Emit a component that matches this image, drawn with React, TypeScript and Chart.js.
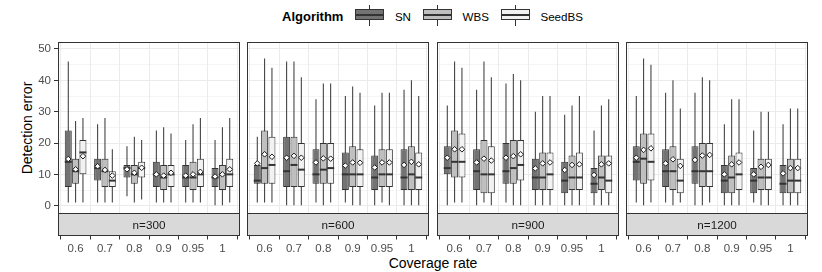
import React, { useEffect, useRef } from 'react';
import { Chart, registerables } from 'chart.js';

Chart.register(...registerables);

const FONT = "'Liberation Sans', Arial, Helvetica, sans-serif";
Chart.defaults.font.family = FONT;

// ---------------- data ----------------
const COVERAGE = ['0.6', '0.7', '0.8', '0.9', '0.95', '1'];
const PANELS = ['n=300', 'n=600', 'n=900', 'n=1200'];
const ALGORITHMS = ['SN', 'WBS', 'SeedBS'];
const Y_TICKS = [0, 10, 20, 30, 40, 50];
const Y_MINOR = [5, 15, 25, 35, 45];

// one row per coverage rate: [lower whisker, Q1, median, Q3, upper whisker, mean]
const SN_300 = [
  [1, 6, 14, 24, 46, 14.9],
  [1, 8, 12, 15, 26, 12.6],
  [3, 9, 12, 13, 19, 11.6],
  [1, 6, 10, 14, 24, 10.0],
  [1, 6, 9, 13, 21, 9.6],
  [0, 6, 9, 12, 21, 9.3],
];
const WBS_300 = [
  [1, 7, 11, 15, 27, 11.6],
  [1, 6, 11, 15, 28, 11.4],
  [1, 7, 10, 13, 22, 10.5],
  [1, 5, 9, 13, 25, 9.6],
  [1, 5, 9, 14, 26, 10.0],
  [0, 5, 10, 13, 25, 10.0],
];
const SEED_300 = [
  [1, 10, 17, 21, 28, 15.8],
  [1, 6, 8, 11, 18, 9.6],
  [2, 9, 12, 14, 21, 12.1],
  [1, 6, 10, 13, 23, 10.5],
  [1, 6, 10, 15, 28, 10.8],
  [1, 6, 10, 15, 28, 11.6],
];

const SN_600 = [
  [1, 7, 8, 13, 22, 13.5],
  [0, 6, 11, 22, 46, 15.3],
  [1, 7, 10, 18, 34, 13.8],
  [1, 5, 10, 17, 35, 12.8],
  [0, 5, 9, 16, 32, 12.2],
  [0, 5, 9, 18, 37, 13.0],
];
const WBS_600 = [
  [1, 7, 12, 24, 47, 16.4],
  [0, 6, 13, 22, 46, 15.9],
  [0, 7, 11.5, 20, 39, 15.1],
  [0, 6, 10, 19, 38, 13.8],
  [1, 6, 10, 18, 36, 13.8],
  [0, 5, 10, 19, 40, 14.0],
];
const SEED_600 = [
  [1, 7, 13, 22, 44, 15.6],
  [0, 6, 11.5, 20, 41, 15.3],
  [1, 7, 12, 20, 39, 15.0],
  [0, 6, 10, 18, 36, 13.7],
  [0, 6, 10, 18, 36, 13.8],
  [0, 5, 9, 17, 35, 13.2],
];

const SN_900 = [
  [0, 10, 12, 19, 32, 15.3],
  [0, 5, 11, 18, 37, 13.8],
  [1, 7, 11, 20, 39, 15.3],
  [0, 5, 9, 15, 30, 11.9],
  [0, 4, 8, 14, 29, 11.4],
  [0, 4, 7, 12, 24, 9.8],
];
const WBS_900 = [
  [1, 9, 14, 24, 46, 18.0],
  [1, 4, 10, 21, 46, 15.0],
  [0, 7, 12, 21, 42, 15.8],
  [0, 5, 9, 17, 35, 13.5],
  [0, 5, 9, 16, 32, 13.0],
  [0, 5, 9, 16, 32, 13.2],
];
const SEED_900 = [
  [1, 9, 14, 23, 44, 18.0],
  [0, 4, 10, 19, 41, 14.4],
  [0, 8, 13, 21, 40, 16.4],
  [0, 5, 10, 17, 35, 13.8],
  [0, 5, 9, 17, 35, 13.2],
  [0, 4, 8, 16, 34, 13.5],
];

const SN_1200 = [
  [1, 8, 14, 19, 35, 15.3],
  [1, 6, 11, 18, 36, 13.5],
  [0, 7, 11, 19, 36, 14.6],
  [0, 4, 8, 13, 26, 10.0],
  [1, 4, 8, 12, 24, 10.0],
  [0, 4, 7, 13, 26, 10.3],
];
const WBS_1200 = [
  [0, 7, 15, 23, 47, 17.8],
  [0, 5, 11, 19, 40, 14.8],
  [0, 6, 11, 20, 41, 16.0],
  [0, 4, 9, 16, 34, 13.2],
  [0, 5, 9, 15, 30, 12.4],
  [0, 4, 8, 15, 31, 12.0],
];
const SEED_1200 = [
  [1, 8, 14, 23, 45, 18.3],
  [1, 4, 8, 15, 31, 12.7],
  [1, 6, 11, 20, 40, 16.2],
  [0, 5, 10, 17, 34, 13.8],
  [0, 5, 9, 15, 30, 13.0],
  [0, 4, 8, 15, 31, 12.0],
];

const PANEL_DATA = [
  [SN_300, WBS_300, SEED_300],
  [SN_600, WBS_600, SEED_600],
  [SN_900, WBS_900, SEED_900],
  [SN_1200, WBS_1200, SEED_1200],
];

// ---------------- style / layout ----------------
const FILLS = ['#737373', '#BFBFBF', '#F2F2F2'];
const DODGE = [-0.25, 0, 0.25];
const PANEL_LEFT = [58, 247, 437, 626];
const PANEL_W = 182;
const Y_MIN = -9.67;
const Y_MAX = 52.23;
const STRIP_AT = -2.43;

function zeroPad(s: any) {
  s.paddingLeft = 0;
  s.paddingRight = 0;
  s.paddingTop = 0;
  s.paddingBottom = 0;
}

function makeFacetPlugin(label: string) {
  return {
    id: 'facetDecor',
    afterDatasetDraw(chart: any, args: any) {
      const ds: any = chart.data.datasets[args.index];
      if (!ds.medians) return;
      const { ctx } = chart;
      const y = chart.scales.y;
      ctx.save();
      ctx.strokeStyle = '#333333';
      ctx.lineWidth = 2;
      args.meta.data.forEach((bar: any, j: number) => {
        const py = y.getPixelForValue(ds.medians[j]);
        ctx.beginPath();
        ctx.moveTo(bar.x - bar.width / 2, py);
        ctx.lineTo(bar.x + bar.width / 2, py);
        ctx.stroke();
      });
      ctx.restore();
    },
    afterDraw(chart: any) {
      const { ctx, chartArea: a } = chart;
      const y = chart.scales.y;
      const stripTop = Math.round(y.getPixelForValue(STRIP_AT));
      ctx.save();
      ctx.fillStyle = '#D9D9D9';
      ctx.fillRect(a.left, stripTop, a.right - a.left, a.bottom - stripTop);
      ctx.strokeStyle = '#333333';
      ctx.lineWidth = 1;
      ctx.strokeRect(a.left + 0.5, a.top + 0.5, a.right - a.left - 1, stripTop - a.top);
      ctx.strokeRect(a.left + 0.5, stripTop + 0.5, a.right - a.left - 1, a.bottom - stripTop - 1);
      ctx.fillStyle = '#1A1A1A';
      ctx.font = `11.7px ${FONT}`;
      ctx.textAlign = 'center';
      ctx.textBaseline = 'middle';
      ctx.fillText(label, (a.left + a.right) / 2, (stripTop + a.bottom) / 2 + 1);
      ctx.restore();
    },
  };
}

function Facet({ index }: { index: number }) {
  const ref = useRef<HTMLCanvasElement>(null);
  const first = index === 0;
  const axisW = first ? 58 : 0;
  const padL = first ? 0 : 1;
  const width = padL + axisW + PANEL_W + 1;
  const left = PANEL_LEFT[index] - axisW - padL;
  const height = 236;

  useEffect(() => {
    const rows = PANEL_DATA[index];
    const whiskers: any[] = [];
    const means: any[] = [];
    rows.forEach((algRows, a) =>
      algRows.forEach((r, c) => {
        whiskers.push({ x: c + 1 + DODGE[a], y: [r[0], r[4]] });
        means.push({ x: c + 1 + DODGE[a], y: r[5] });
      })
    );
    const boxSets = ALGORITHMS.map((name, a) => ({
      type: 'bar',
      label: name,
      data: rows[a].map((r, c) => ({ x: c + 1 + DODGE[a], y: [r[1], r[3]] })),
      medians: rows[a].map((r) => r[2]),
      backgroundColor: FILLS[a],
      borderColor: '#333333',
      borderWidth: 1,
      borderSkipped: false,
      inflateAmount: 0,
      barThickness: 7,
      maxBarThickness: 7,
      grouped: false,
      order: 2,
    }));

    const isMajor = (v: number) => Y_TICKS.includes(v);

    const chart = new Chart(ref.current as HTMLCanvasElement, {
      type: 'bar',
      data: {
        datasets: [
          {
            type: 'bar',
            label: 'whiskers',
            data: whiskers,
            backgroundColor: '#333333',
            borderWidth: 0,
            inflateAmount: 0,
            barThickness: 1,
            maxBarThickness: 1,
            grouped: false,
            order: 3,
          },
          ...boxSets,
          {
            type: 'line',
            label: 'mean',
            data: means,
            showLine: false,
            pointStyle: 'rectRot',
            pointRadius: 2.8,
            pointBackgroundColor: '#FFFFFF',
            pointBorderColor: '#1A1A1A',
            pointBorderWidth: 1,
            order: 1,
          },
        ] as any,
      },
      options: {
        animation: false,
        responsive: false,
        devicePixelRatio: 1,
        events: [],
        layout: { autoPadding: false, padding: { left: padL, right: 1, top: 6, bottom: 0 } },
        plugins: { legend: { display: false }, tooltip: { enabled: false } },
        scales: {
          x: {
            type: 'linear',
            min: 0.4,
            max: 6.6,
            offset: false,
            afterBuildTicks: (s: any) => {
              s.ticks = COVERAGE.map((_, i) => ({ value: i + 1 }));
            },
            afterFit: (s: any) => {
              s.height = 36;
              zeroPad(s);
            },
            ticks: {
              autoSkip: false,
              maxRotation: 0,
              minRotation: 0,
              padding: 2.5,
              color: '#4D4D4D',
              font: { size: 11.5, family: FONT },
              callback: (_v: any, i: number) => COVERAGE[i],
            },
            grid: {
              color: '#EBEBEB',
              lineWidth: 1,
              tickColor: '#333333',
              tickLength: 3.5,
              drawTicks: true,
            },
            border: { display: false },
          },
          y: {
            type: 'linear',
            min: Y_MIN,
            max: Y_MAX,
            afterBuildTicks: (s: any) => {
              s.ticks = [...Y_TICKS, ...Y_MINOR].sort((p, q) => p - q).map((v) => ({ value: v }));
            },
            afterFit: (s: any) => {
              s.width = axisW;
              zeroPad(s);
            },
            ticks: {
              display: first,
              autoSkip: false,
              padding: 3,
              color: '#4D4D4D',
              font: { size: 11.5, family: FONT },
              callback: (v: any) => (isMajor(v) ? String(v) : ''),
            },
            grid: {
              color: '#EBEBEB',
              lineWidth: (ctx: any) => (ctx.tick && isMajor(ctx.tick.value) ? 1 : 0.5),
              tickColor: (ctx: any) => (ctx.tick && isMajor(ctx.tick.value) ? '#333333' : 'rgba(0,0,0,0)'),
              tickWidth: 1,
              tickLength: 4,
              drawTicks: first,
            },
            border: { display: false },
          },
        },
      } as any,
      plugins: [makeFacetPlugin(PANELS[index])],
    });
    return () => chart.destroy();
  }, [index]);

  return (
    <canvas
      ref={ref}
      width={width}
      height={height}
      style={{ position: 'absolute', left, top: 36, width, height }}
    />
  );
}

function LegendKey({ fill }: { fill: string }) {
  return (
    <div style={{ position: 'relative', width: 29, height: 22, marginRight: 10.5, flex: 'none' }}>
      <div style={{ position: 'absolute', left: 14, top: 0, width: 1, height: 21, background: '#333333' }} />
      <div
        style={{
          position: 'absolute',
          left: 0,
          top: 4,
          width: 29,
          height: 11,
          boxSizing: 'border-box',
          border: '1px solid #333333',
          background: fill,
        }}
      />
      <div style={{ position: 'absolute', left: 0, top: 9, width: 29, height: 1.5, background: '#333333' }} />
    </div>
  );
}

function Legend() {
  return (
    <div
      style={{
        position: 'absolute',
        left: 282,
        top: 5,
        height: 22,
        display: 'flex',
        alignItems: 'center',
        fontFamily: FONT,
        whiteSpace: 'nowrap',
        color: '#000',
      }}
    >
      <span style={{ fontWeight: 'bold', fontSize: 13, marginRight: 12 }}>Algorithm</span>
      {ALGORITHMS.map((name, a) => (
        <React.Fragment key={name}>
          <LegendKey fill={FILLS[a]} />
          <span style={{ fontSize: 11.6, marginRight: 12 }}>{name}</span>
        </React.Fragment>
      ))}
    </div>
  );
}

export default function App() {
  return (
    <div
      style={{
        position: 'absolute',
        left: 0,
        top: 0,
        width: 822,
        height: 272,
        background: '#FFFFFF',
        overflow: 'hidden',
        fontFamily: FONT,
      }}
    >
      <Legend />
      <div
        style={{
          position: 'absolute',
          left: 27.4,
          top: 128,
          transform: 'translate(-50%, -50%) rotate(-90deg)',
          fontSize: 14,
          lineHeight: '16px',
          whiteSpace: 'nowrap',
          color: '#000',
        }}
      >
        Detection error
      </div>
      <div
        style={{
          position: 'absolute',
          left: 433,
          top: 263,
          transform: 'translate(-50%, -50%)',
          fontSize: 14,
          lineHeight: '16px',
          whiteSpace: 'nowrap',
          color: '#000',
        }}
      >
        Coverage rate
      </div>
      {PANELS.map((p, i) => (
        <Facet key={p} index={i} />
      ))}
    </div>
  );
}
